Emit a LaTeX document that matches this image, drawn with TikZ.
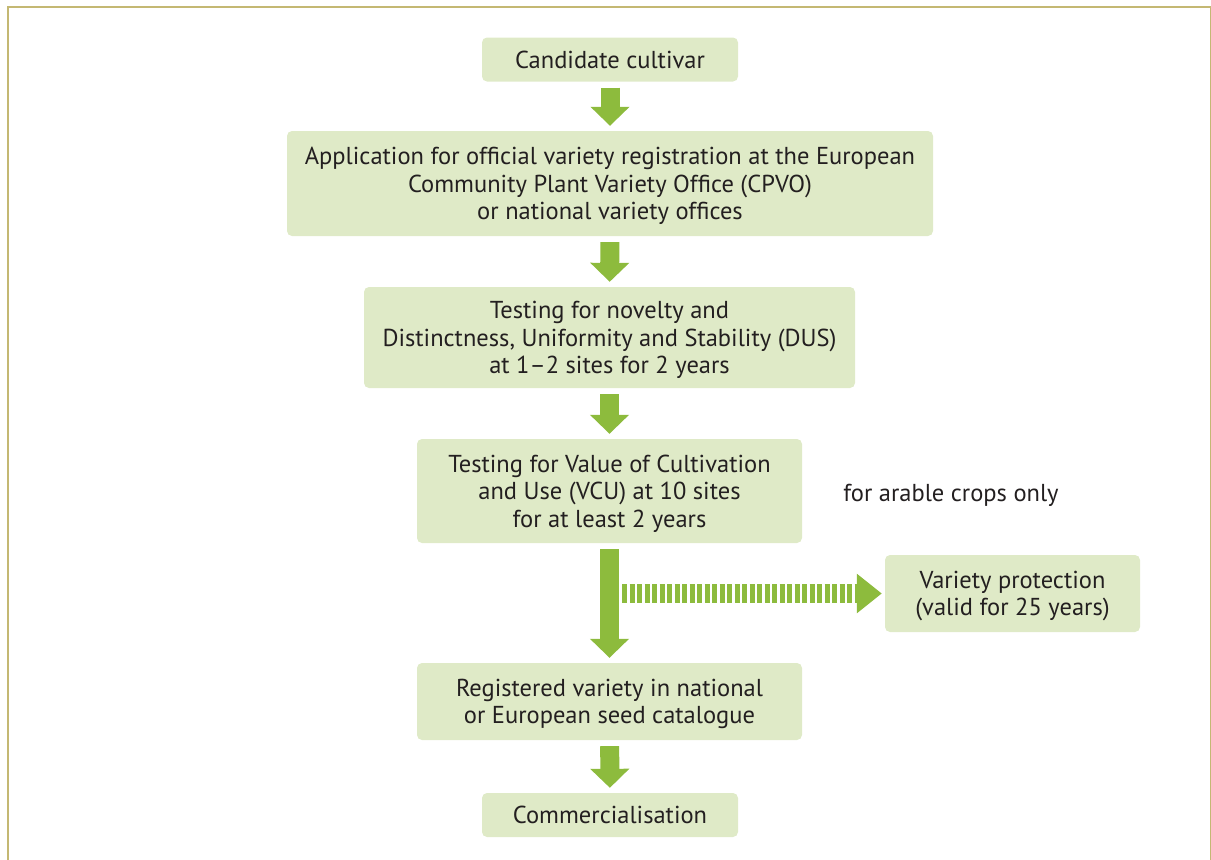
\documentclass[tikz,border=0pt]{standalone}
\usepackage{fontspec}
\setmainfont{PT Sans}
\usetikzlibrary{arrows.meta}

\definecolor{boxgreen}{HTML}{DFEAC7}
\definecolor{arrowgreen}{HTML}{8DBB3D}
\definecolor{frameolive}{HTML}{C4B873}
\definecolor{textgray}{HTML}{231F20}

\tikzset{
  stage/.style={fill=boxgreen, rounded corners=5pt, align=center, text=textgray,
    inner sep=0pt, text depth=0pt, font=\fontsize{24.5}{27.5}\selectfont},
  flow/.style={arrowgreen, line width=19pt, -{Triangle[width=38pt,length=19pt]},
    shorten <=6pt, shorten >=5pt},
}

\begin{document}
\begin{tikzpicture}[x=1pt,y=-1pt]
  \useasboundingbox (0,0) rectangle (1211,860);
  \draw[frameolive, line width=2pt] (7.5,870) -- (7.5,6.5) -- (1211,6.5) -- (1211,870);

  \node[stage, minimum width=256pt, minimum height=44pt] (cand) at (610,59.5) {Candidate cultivar};
  \node[stage, minimum width=646pt, minimum height=105pt] (app) at (610,183.5)
    {Application for official variety registration at the European\\
     Community Plant Variety Office (CPVO)\\ or national variety offices};
  \node[stage, minimum width=491pt, minimum height=101pt] (dus) at (609.5,337.5)
    {Testing for novelty and\\ Distinctness, Uniformity and Stability (DUS)\\ at 1–2 sites for 2 years};
  \node[stage, minimum width=385pt, minimum height=104pt] (vcu) at (609.5,491)
    {Testing for Value of Cultivation\\ and Use (VCU) at 10 sites\\ for at least 2 years};
  \node[text=textgray, font=\fontsize{24.5}{27.5}\selectfont] (arable) at (951,495) {for arable crops only};
  \node[stage, minimum width=255pt, minimum height=77pt] (prot) at (1012.5,593.5)
    {Variety protection\\ (valid for 25 years)};
  \node[stage, minimum width=385pt, minimum height=77pt] (reg) at (609.5,701.5)
    {Registered variety in national\\ or European seed catalogue};
  \node[stage, minimum width=256pt, minimum height=44pt] (comm) at (610,815) {Commercialisation};

  \draw[flow] (cand) -- (app);
  \draw[flow] (app) -- (dus);
  \draw[flow] (dus) -- (vcu);
  \draw[flow] (vcu) -- (reg);
  \draw[flow] (reg) -- (comm);

  \coordinate (branch) at (622,593.5);
  \draw[flow, dash pattern=on 5pt off 2.5pt, shorten <=0pt, shorten >=3pt,
    -{Triangle[width=38pt,length=25pt]}] (branch) -- (prot.west);
\end{tikzpicture}
\end{document}
